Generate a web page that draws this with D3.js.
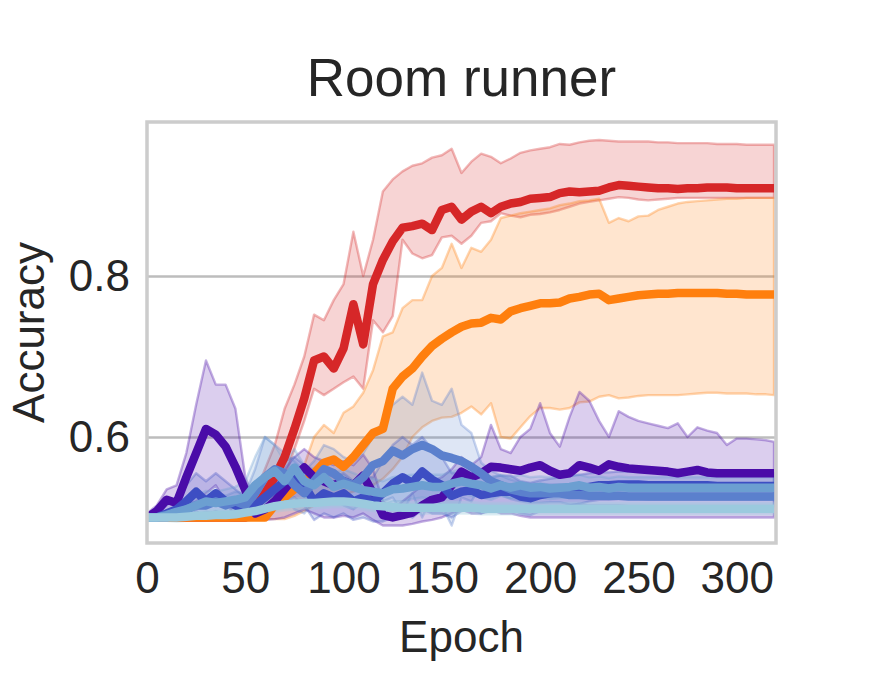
<!DOCTYPE html>
<html><head><meta charset="utf-8">
<script src="https://cdn.jsdelivr.net/npm/d3@7"></script>
<style>
body{margin:0;background:#fff}
svg{display:block}
text{font-family:"Liberation Sans",Arial,sans-serif;fill:#262626}
</style>
</head><body>
<svg id="chart" width="893" height="683"></svg>
<script>
const epochs=[0,5,10,15,20,25,30,35,40,45,50,55,60,65,70,75,80,85,90,95,100,105,110,115,120,125,130,135,140,145,150,155,160,165,170,175,180,185,190,195,200,205,210,215,220,225,230,235,240,245,250,255,260,265,270,275,280,285,290,295,300,305,310,315,319];
const xTicks=[0,50,100,150,200,250,300];
const yTicks=[0.6,0.8];

const redMean=[0.5,0.5,0.5,0.5,0.5,0.5,0.5,0.5,0.5,0.5,
0.5,0.512,0.53,0.55,0.575,0.61,0.648,0.695,0.7,0.685,
0.71,0.765,0.715,0.79,0.82,0.843,0.86,0.862,0.865,0.857,
0.882,0.886,0.87,0.88,0.886,0.878,0.886,0.89,0.892,0.896,
0.897,0.898,0.903,0.905,0.904,0.905,0.906,0.91,0.913,0.912,
0.911,0.91,0.909,0.909,0.908,0.909,0.909,0.91,0.91,0.91,
0.909,0.909,0.909,0.909,0.909];
const redHi=[0.502,0.502,0.502,0.502,0.502,0.502,0.502,0.502,0.502,0.502,
0.505,0.53,0.56,0.59,0.635,0.665,0.7,0.752,0.745,0.77,
0.79,0.855,0.8,0.845,0.905,0.92,0.93,0.937,0.94,0.947,
0.95,0.958,0.928,0.942,0.952,0.948,0.94,0.946,0.953,0.956,
0.958,0.96,0.964,0.963,0.966,0.968,0.969,0.968,0.967,0.967,
0.967,0.967,0.966,0.966,0.965,0.965,0.965,0.965,0.964,0.964,
0.964,0.963,0.963,0.963,0.963];
const redLo=[0.498,0.498,0.498,0.498,0.498,0.498,0.498,0.498,0.498,0.498,
0.498,0.5,0.51,0.53,0.55,0.585,0.62,0.66,0.652,0.66,
0.668,0.675,0.66,0.745,0.73,0.75,0.845,0.828,0.822,0.826,
0.848,0.85,0.84,0.85,0.866,0.868,0.878,0.875,0.873,0.876,
0.877,0.879,0.882,0.886,0.89,0.892,0.894,0.896,0.898,0.897,
0.895,0.894,0.895,0.896,0.897,0.897,0.897,0.897,0.897,0.897,
0.897,0.897,0.897,0.897,0.897];

const orangeMean=[0.5,0.5,0.5,0.5,0.5,0.5,0.5,0.5,0.5,0.5,
0.5,0.5,0.5,0.515,0.525,0.535,0.545,0.555,0.568,0.572,
0.563,0.575,0.59,0.605,0.61,0.66,0.675,0.685,0.7,0.713,
0.722,0.73,0.737,0.741,0.742,0.748,0.746,0.756,0.76,0.763,
0.766,0.766,0.767,0.772,0.774,0.777,0.778,0.77,0.772,0.774,
0.776,0.777,0.778,0.778,0.779,0.779,0.779,0.779,0.779,0.778,
0.778,0.777,0.777,0.777,0.777];
const orangeHi=[0.502,0.502,0.502,0.502,0.502,0.502,0.502,0.502,0.502,0.502,
0.502,0.502,0.502,0.525,0.54,0.55,0.565,0.6,0.615,0.605,
0.63,0.638,0.655,0.683,0.725,0.73,0.76,0.77,0.77,0.8,
0.81,0.84,0.81,0.835,0.83,0.845,0.872,0.875,0.878,0.88,
0.882,0.884,0.888,0.89,0.893,0.894,0.896,0.866,0.872,0.868,
0.874,0.875,0.882,0.886,0.89,0.892,0.893,0.894,0.895,0.896,
0.896,0.897,0.897,0.897,0.897];
const orangeLo=[0.498,0.498,0.498,0.498,0.498,0.498,0.498,0.498,0.498,0.498,
0.498,0.498,0.498,0.498,0.498,0.502,0.508,0.515,0.52,0.525,
0.528,0.532,0.536,0.54,0.548,0.56,0.575,0.6,0.612,0.62,
0.624,0.625,0.63,0.638,0.628,0.642,0.6,0.598,0.612,0.626,
0.636,0.636,0.634,0.636,0.643,0.644,0.65,0.652,0.648,0.649,
0.651,0.652,0.652,0.652,0.652,0.653,0.654,0.655,0.655,0.654,
0.654,0.654,0.653,0.653,0.652];

const purpleMean=[0.5,0.508,0.522,0.518,0.55,0.58,0.61,0.603,0.588,0.563,
0.534,0.505,0.51,0.52,0.535,0.55,0.562,0.55,0.545,0.54,
0.545,0.54,0.552,0.53,0.503,0.5,0.503,0.506,0.515,0.522,
0.525,0.54,0.557,0.55,0.555,0.563,0.562,0.56,0.558,0.562,
0.565,0.558,0.553,0.555,0.565,0.562,0.558,0.566,0.563,0.561,
0.56,0.559,0.558,0.557,0.555,0.557,0.559,0.556,0.555,0.555,
0.555,0.555,0.555,0.555,0.555];
const purpleHi=[0.505,0.515,0.535,0.54,0.58,0.64,0.695,0.665,0.665,0.635,
0.55,0.52,0.54,0.55,0.56,0.575,0.585,0.575,0.57,0.565,
0.57,0.565,0.578,0.56,0.52,0.51,0.52,0.53,0.54,0.545,
0.55,0.56,0.575,0.565,0.575,0.615,0.585,0.58,0.6,0.61,
0.642,0.605,0.588,0.625,0.656,0.645,0.62,0.6,0.632,0.625,
0.62,0.617,0.614,0.611,0.617,0.6,0.612,0.608,0.605,0.59,
0.598,0.598,0.597,0.596,0.594];
const purpleLo=[0.495,0.5,0.505,0.5,0.515,0.52,0.53,0.54,0.52,0.5,
0.497,0.497,0.497,0.498,0.5,0.505,0.51,0.505,0.5,0.5,
0.502,0.5,0.505,0.497,0.49,0.49,0.49,0.492,0.495,0.497,
0.5,0.505,0.51,0.505,0.505,0.51,0.505,0.505,0.502,0.5,
0.5,0.5,0.5,0.5,0.5,0.5,0.5,0.5,0.5,0.5,
0.5,0.5,0.5,0.5,0.5,0.5,0.5,0.5,0.5,0.5,
0.5,0.5,0.5,0.5,0.5];

const royalMean=[0.5,0.5,0.505,0.51,0.52,0.532,0.52,0.53,0.52,0.515,
0.51,0.515,0.525,0.535,0.545,0.55,0.54,0.52,0.53,0.525,
0.53,0.52,0.525,0.52,0.53,0.542,0.55,0.543,0.557,0.547,
0.54,0.527,0.532,0.534,0.528,0.53,0.532,0.532,0.526,0.524,
0.528,0.53,0.532,0.534,0.536,0.538,0.54,0.54,0.541,0.541,
0.541,0.54,0.54,0.54,0.54,0.54,0.54,0.54,0.539,0.539,
0.539,0.539,0.539,0.539,0.539];
const royalHi=[0.502,0.505,0.515,0.525,0.54,0.555,0.545,0.555,0.545,0.535,
0.525,0.53,0.545,0.56,0.57,0.575,0.565,0.545,0.555,0.55,
0.555,0.545,0.55,0.55,0.57,0.59,0.6,0.59,0.6,0.585,
0.575,0.555,0.555,0.555,0.55,0.55,0.552,0.552,0.545,0.543,
0.546,0.548,0.55,0.552,0.553,0.555,0.556,0.556,0.557,0.557,
0.557,0.556,0.556,0.556,0.556,0.556,0.556,0.556,0.555,0.555,
0.555,0.555,0.555,0.555,0.555];
const royalLo=[0.498,0.497,0.497,0.498,0.5,0.508,0.498,0.505,0.497,0.496,
0.496,0.498,0.505,0.51,0.52,0.525,0.515,0.497,0.505,0.5,
0.505,0.497,0.5,0.495,0.495,0.5,0.505,0.5,0.51,0.505,
0.505,0.5,0.508,0.51,0.505,0.508,0.51,0.51,0.505,0.503,
0.508,0.51,0.513,0.515,0.517,0.52,0.522,0.522,0.523,0.523,
0.523,0.522,0.522,0.522,0.522,0.522,0.522,0.522,0.522,0.522,
0.522,0.522,0.522,0.522,0.522];

const mediumMean=[0.5,0.5,0.5,0.505,0.51,0.515,0.515,0.52,0.515,0.52,
0.515,0.53,0.55,0.56,0.555,0.54,0.53,0.545,0.56,0.555,
0.545,0.54,0.55,0.565,0.57,0.583,0.577,0.585,0.59,0.585,
0.577,0.574,0.57,0.563,0.555,0.545,0.54,0.535,0.532,0.53,
0.53,0.53,0.53,0.528,0.528,0.527,0.527,0.527,0.527,0.526,
0.526,0.526,0.526,0.526,0.526,0.526,0.526,0.526,0.526,0.526,
0.526,0.526,0.526,0.526,0.526];
const mediumHi=[0.502,0.503,0.505,0.512,0.52,0.525,0.527,0.532,0.527,0.532,
0.53,0.56,0.6,0.59,0.58,0.57,0.558,0.57,0.59,0.585,
0.575,0.57,0.58,0.6,0.62,0.64,0.65,0.64,0.68,0.645,
0.64,0.66,0.615,0.605,0.568,0.558,0.552,0.547,0.544,0.542,
0.542,0.541,0.541,0.54,0.54,0.539,0.539,0.539,0.539,0.538,
0.538,0.538,0.538,0.538,0.538,0.538,0.538,0.538,0.538,0.538,
0.538,0.538,0.538,0.538,0.538];
const mediumLo=[0.498,0.497,0.496,0.498,0.5,0.505,0.503,0.508,0.503,0.508,
0.5,0.5,0.5,0.53,0.53,0.51,0.505,0.52,0.53,0.525,
0.515,0.51,0.52,0.53,0.52,0.525,0.505,0.53,0.5,0.525,
0.515,0.49,0.525,0.52,0.54,0.532,0.528,0.523,0.52,0.518,
0.518,0.519,0.519,0.516,0.516,0.515,0.515,0.515,0.515,0.514,
0.514,0.514,0.514,0.514,0.514,0.514,0.514,0.514,0.514,0.514,
0.514,0.514,0.514,0.514,0.514];

const steelMean=[0.5,0.5,0.503,0.507,0.51,0.515,0.52,0.518,0.52,0.522,
0.525,0.54,0.55,0.558,0.545,0.562,0.545,0.54,0.55,0.538,
0.542,0.538,0.534,0.532,0.53,0.535,0.536,0.538,0.54,0.538,
0.538,0.542,0.545,0.542,0.54,0.536,0.54,0.537,0.54,0.537,
0.538,0.536,0.537,0.538,0.54,0.537,0.538,0.536,0.538,0.537,
0.537,0.537,0.537,0.537,0.537,0.537,0.537,0.537,0.537,0.537,
0.537,0.537,0.537,0.537,0.537];
const steelHi=[0.502,0.503,0.508,0.515,0.52,0.527,0.533,0.532,0.535,0.538,
0.545,0.575,0.6,0.59,0.57,0.585,0.565,0.56,0.57,0.555,
0.56,0.555,0.55,0.548,0.545,0.55,0.552,0.553,0.555,0.553,
0.553,0.557,0.56,0.557,0.555,0.55,0.553,0.55,0.553,0.55,
0.551,0.55,0.55,0.551,0.553,0.55,0.551,0.549,0.551,0.55,
0.55,0.55,0.55,0.55,0.55,0.55,0.55,0.55,0.55,0.55,
0.55,0.55,0.55,0.55,0.55];
const steelLo=[0.498,0.497,0.498,0.5,0.5,0.503,0.507,0.505,0.506,0.506,
0.505,0.505,0.5,0.525,0.52,0.54,0.525,0.52,0.53,0.52,
0.524,0.52,0.518,0.516,0.515,0.52,0.52,0.523,0.525,0.523,
0.523,0.527,0.53,0.527,0.525,0.522,0.527,0.524,0.527,0.524,
0.525,0.523,0.524,0.525,0.527,0.524,0.525,0.523,0.525,0.524,
0.524,0.524,0.524,0.524,0.524,0.524,0.524,0.524,0.524,0.524,
0.524,0.524,0.524,0.524,0.524];

const lightMean=[0.5,0.5,0.5,0.5,0.501,0.502,0.502,0.503,0.503,0.504,
0.506,0.508,0.511,0.514,0.516,0.517,0.518,0.518,0.519,0.52,
0.52,0.519,0.517,0.515,0.514,0.513,0.512,0.512,0.512,0.512,
0.512,0.512,0.512,0.512,0.511,0.511,0.511,0.511,0.511,0.511,
0.511,0.511,0.511,0.511,0.511,0.511,0.511,0.511,0.511,0.511,
0.511,0.511,0.511,0.511,0.511,0.511,0.511,0.511,0.511,0.511,
0.511,0.511,0.511,0.511,0.511];
const lightHi=[0.503,0.504,0.504,0.505,0.506,0.507,0.508,0.509,0.509,0.51,
0.513,0.515,0.518,0.521,0.523,0.524,0.525,0.525,0.526,0.527,
0.527,0.526,0.524,0.522,0.521,0.52,0.519,0.519,0.519,0.519,
0.519,0.519,0.519,0.519,0.518,0.518,0.518,0.518,0.518,0.518,
0.518,0.518,0.518,0.518,0.518,0.518,0.518,0.518,0.518,0.518,
0.518,0.518,0.518,0.518,0.518,0.518,0.518,0.518,0.518,0.518,
0.518,0.518,0.518,0.518,0.518];
const lightLo=[0.497,0.496,0.496,0.495,0.496,0.497,0.496,0.497,0.497,0.498,
0.499,0.501,0.504,0.507,0.509,0.51,0.511,0.511,0.512,0.513,
0.513,0.512,0.51,0.508,0.507,0.506,0.505,0.505,0.505,0.505,
0.505,0.505,0.505,0.505,0.504,0.504,0.504,0.504,0.504,0.504,
0.504,0.504,0.504,0.504,0.504,0.504,0.504,0.504,0.504,0.504,
0.504,0.504,0.504,0.504,0.504,0.504,0.504,0.504,0.504,0.504,
0.504,0.504,0.504,0.504,0.504];

const series=[
 {color:"#d62728",mean:redMean,hi:redHi,lo:redLo},
 {color:"#ff7f0e",mean:orangeMean,hi:orangeHi,lo:orangeLo},
 {color:"#4a0ca8",mean:purpleMean,hi:purpleHi,lo:purpleLo},
 {color:"#3d4ec3",mean:royalMean,hi:royalHi,lo:royalLo},
 {color:"#5b80cd",mean:mediumMean,hi:mediumHi,lo:mediumLo},
 {color:"#6c9fd1",mean:steelMean,hi:steelHi,lo:steelLo},
 {color:"#9bcade",mean:lightMean,hi:lightHi,lo:lightLo}
];

const L=147,R=776,T=122,B=543;
const x=d3.scaleLinear().domain([0,320]).range([L,R]);
const y=d3.scaleLinear().domain([0.4683,0.9913]).range([B,T]);
const svg=d3.select("#chart");

svg.append("defs").append("clipPath").attr("id","clip")
  .append("rect").attr("x",L).attr("y",T).attr("width",R-L).attr("height",B-T);

// grid + y axis
const gy=svg.append("g").attr("transform",`translate(${L},0)`)
  .call(d3.axisLeft(y).tickValues(yTicks).tickSize(-(R-L)).tickPadding(17).tickFormat(d3.format(".1f")));
gy.select(".domain").remove();
gy.selectAll(".tick line").attr("stroke","#bdbdbd").attr("stroke-width",2.6);
gy.selectAll(".tick text").attr("font-size",44).attr("fill","#262626")
  .style("font-family",'"Liberation Sans",Arial,sans-serif');

// x axis
const gx=svg.append("g").attr("transform",`translate(0,${B})`)
  .call(d3.axisBottom(x).tickValues(xTicks).tickSize(0).tickPadding(19));
gx.select(".domain").remove();
gx.selectAll(".tick text").attr("font-size",44).attr("fill","#262626")
  .style("font-family",'"Liberation Sans",Arial,sans-serif');

const plot=svg.append("g").attr("clip-path","url(#clip)");
const idx=d3.range(epochs.length);

series.forEach(s=>{
  const area=d3.area().x(i=>x(epochs[i])).y0(i=>y(s.lo[i])).y1(i=>y(s.hi[i]));
  plot.append("path").attr("d",area(idx)+"Z")
    .attr("fill",s.color).attr("fill-opacity",0.2)
    .attr("stroke",s.color).attr("stroke-opacity",0.33).attr("stroke-width",2.4)
    .attr("stroke-linejoin","round");
});
series.forEach(s=>{
  const line=d3.line().x(i=>x(epochs[i])).y(i=>y(s.mean[i]));
  plot.append("path").attr("d",line(idx))
    .attr("fill","none").attr("stroke",s.color).attr("stroke-width",8.5)
    .attr("stroke-linejoin","round").attr("stroke-linecap","butt");
});

// frame
svg.append("rect").attr("x",L).attr("y",T).attr("width",R-L).attr("height",B-T)
  .attr("fill","none").attr("stroke","#cccccc").attr("stroke-width",3.5);

// titles
svg.append("text").attr("x",(L+R)/2).attr("y",96).attr("text-anchor","middle")
  .attr("font-size",53).text("Room runner");
svg.append("text").attr("x",(L+R)/2).attr("y",652).attr("text-anchor","middle")
  .attr("font-size",44).text("Epoch");
svg.append("text").attr("transform",`translate(44,${(T+B)/2}) rotate(-90)`)
  .attr("text-anchor","middle").attr("font-size",44).text("Accuracy");
</script>
</body></html>
